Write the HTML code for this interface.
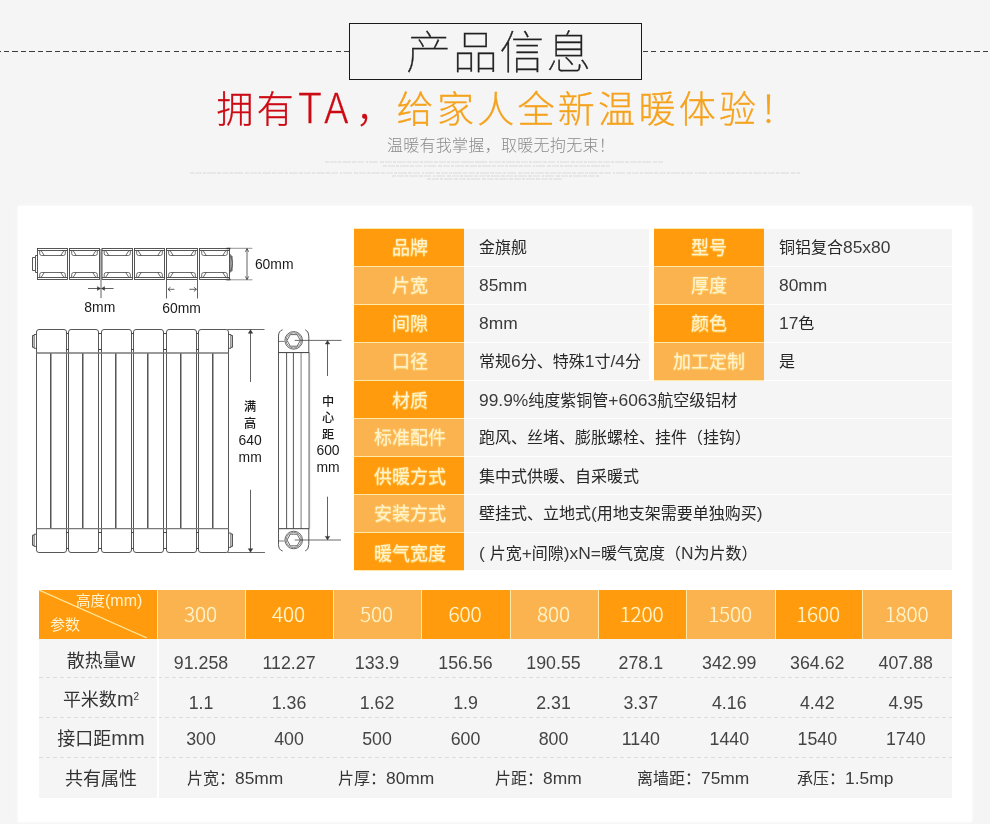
<!DOCTYPE html>
<html lang="zh-CN">
<head>
<meta charset="utf-8">
<title>产品信息</title>
<style>
*{margin:0;padding:0;box-sizing:border-box}
html,body{width:990px;height:824px;overflow:hidden;background:#f5f5f5}
body{font-family:"Liberation Sans","Noto Sans CJK SC",sans-serif;color:#333;position:relative}
.abs{position:absolute}
#page{position:absolute;left:0;top:0;width:990px;height:824px;background:#f5f5f5;overflow:hidden}
.dash{position:absolute;top:51px;height:1px;background:repeating-linear-gradient(90deg,#3c3c3c 0,#3c3c3c 5px,transparent 5px,transparent 8.5px)}
#tbox{position:absolute;left:349px;top:23px;width:293px;height:57px;border:1px solid #1a1a1a;background:#f5f5f5;text-align:center;font-size:45px;line-height:60px;font-weight:100;color:#222;-webkit-text-stroke:0.35px #222;letter-spacing:1.7px;padding-left:8px;white-space:nowrap}
#h1{position:absolute;left:13px;top:85px;width:990px;text-align:center;font-size:37px;line-height:48px;font-weight:300;letter-spacing:3.3px;white-space:nowrap;color:#f5a21d;-webkit-text-stroke:0.3px #f5a21d}
#h1 b{font-weight:300;color:#cc0a14;-webkit-text-stroke:0.3px #cc0a14}
#h1 i{font-style:normal;font-family:"Noto Sans CJK SC",sans-serif;font-size:41px;letter-spacing:4px;margin-left:1px;margin-right:4px;line-height:1;vertical-align:baseline}
#h2{position:absolute;left:6px;top:135px;width:990px;letter-spacing:.3px;text-align:center;font-size:16px;line-height:22px;font-weight:300;color:#8a8a8a;white-space:nowrap}
.tiny{position:absolute;height:2px;opacity:.85;background:repeating-linear-gradient(90deg,#e3e3e3 0,#e3e3e3 4px,transparent 4px,transparent 5px,#e6e6e6 5px,#e6e6e6 12px,transparent 12px,transparent 13.2px,#e2e2e2 13.2px,#e2e2e2 16px,transparent 16px,transparent 17px,#e5e5e5 17px,#e5e5e5 26px,transparent 26px,transparent 27.3px)}
#panel{position:absolute;left:17.5px;top:206px;width:954.5px;height:616px;background:#fff;box-shadow:0 0 4px rgba(255,255,255,.9)}
/* spec table */
.lab{position:absolute;width:110px;height:37px;line-height:39px;padding-left:2px;text-align:center;font-size:18px;font-weight:400;color:#fff2cc;text-shadow:0 1px 1px rgba(255,225,130,.9),0 0 2px rgba(255,240,180,.7);white-space:nowrap}
.d{background:#ff9b0c}
.l{background:#fbb34f}
.val{position:absolute;height:37px;line-height:37px;font-size:16px;color:#262626;overflow:hidden;background:#f5f5f5;padding-left:15px;white-space:nowrap;font-weight:400}
.n{font-family:"Liberation Sans",sans-serif;font-weight:400;font-size:17.4px;line-height:1;color:#3a3a3a}

/* bottom table */
#bt{position:absolute;left:39px;top:590px;width:913px;height:208px;background:#f5f5f5}
.hc{position:absolute;top:0;height:49px;line-height:47px;text-align:center;font-family:"Noto Sans CJK SC","Liberation Sans",sans-serif;font-weight:300;font-size:20.8px;letter-spacing:-0.2px;padding-right:2px;color:#fff3cf;text-shadow:0 0 1px rgba(255,235,160,.9);white-space:nowrap}
.rl{position:absolute;left:3px;width:118px;height:40px;line-height:40px;text-align:center;font-size:18px;color:#333;white-space:nowrap}
.rl .n{font-size:20px}
.bc{position:absolute;height:40px;line-height:40px;text-align:center;font-size:17.8px;color:#444;white-space:nowrap}
.sep{position:absolute;left:0;width:913px;height:1px;background:repeating-linear-gradient(90deg,#dcdcdc 0,#dcdcdc 4px,transparent 4px,transparent 7px)}
.at{position:absolute;top:169.4px;height:40px;line-height:40px;font-size:16px;color:#333;white-space:nowrap}
</style>
</head>
<body>
<div id="page">
<div class="dash" style="left:0;width:349px;transform:scaleX(-1)"></div>
<div class="dash" style="left:643px;width:347px"></div>
<div id="tbox">产品信息</div>
<div id="h1"><b>拥有<i>TA</i>，</b>给家人全新温暖体验！</div>
<div id="h2">温暖有我掌握，取暖无拘无束！</div>
<div class="tiny" style="top:161px;left:325px;width:338px"></div>
<div class="tiny" style="top:164.5px;left:383px;width:227px"></div>
<div class="tiny" style="top:171.5px;left:190px;width:610px"></div>
<div class="tiny" style="top:174.8px;left:392px;width:208px"></div>
<div class="tiny" style="top:178px;left:427px;width:136px"></div>
<div id="panel"></div>
<!-- draw -->
<svg id="draw" class="abs" style="left:0;top:0" width="360" height="580" viewBox="0 0 360 580" fill="none" stroke="#444" stroke-width="0.9" stroke-linecap="butt" font-family="&quot;Liberation Sans&quot;,&quot;Noto Sans CJK SC&quot;,sans-serif">
<g id="topview">
<rect x="37.5" y="248.5" width="30.0" height="31.0"/>
<path d="M37.5,250.5H67.5M37.5,277.5H67.5" stroke-width="0.9"/>
<path d="M39.7,250.5V253.5Q39.7,255.5 41.7,255.5H63.3Q65.3,255.5 65.3,253.5V250.5M41.0,250.5L44.3,255.5M64.0,250.5L60.7,255.5" stroke-width="0.8"/>
<path d="M39.7,277.5V274.5Q39.7,272.5 41.7,272.5H63.3Q65.3,272.5 65.3,274.5V277.5M41.0,277.5L44.3,272.5M64.0,277.5L60.7,272.5" stroke-width="0.8"/>
<rect x="69.5" y="248.5" width="30.0" height="31.0"/>
<path d="M69.5,250.5H99.5M69.5,277.5H99.5" stroke-width="0.9"/>
<path d="M71.7,250.5V253.5Q71.7,255.5 73.7,255.5H95.3Q97.3,255.5 97.3,253.5V250.5M73.0,250.5L76.3,255.5M96.0,250.5L92.7,255.5" stroke-width="0.8"/>
<path d="M71.7,277.5V274.5Q71.7,272.5 73.7,272.5H95.3Q97.3,272.5 97.3,274.5V277.5M73.0,277.5L76.3,272.5M96.0,277.5L92.7,272.5" stroke-width="0.8"/>
<rect x="102.0" y="248.5" width="30.5" height="31.0"/>
<path d="M102.0,250.5H132.5M102.0,277.5H132.5" stroke-width="0.9"/>
<path d="M104.2,250.5V253.5Q104.2,255.5 106.2,255.5H128.3Q130.3,255.5 130.3,253.5V250.5M105.5,250.5L108.8,255.5M129.0,250.5L125.7,255.5" stroke-width="0.8"/>
<path d="M104.2,277.5V274.5Q104.2,272.5 106.2,272.5H128.3Q130.3,272.5 130.3,274.5V277.5M105.5,277.5L108.8,272.5M129.0,277.5L125.7,272.5" stroke-width="0.8"/>
<rect x="134.5" y="248.5" width="30.0" height="31.0"/>
<path d="M134.5,250.5H164.5M134.5,277.5H164.5" stroke-width="0.9"/>
<path d="M136.7,250.5V253.5Q136.7,255.5 138.7,255.5H160.3Q162.3,255.5 162.3,253.5V250.5M138.0,250.5L141.3,255.5M161.0,250.5L157.7,255.5" stroke-width="0.8"/>
<path d="M136.7,277.5V274.5Q136.7,272.5 138.7,272.5H160.3Q162.3,272.5 162.3,274.5V277.5M138.0,277.5L141.3,272.5M161.0,277.5L157.7,272.5" stroke-width="0.8"/>
<rect x="166.5" y="248.5" width="31.0" height="31.0"/>
<path d="M166.5,250.5H197.5M166.5,277.5H197.5" stroke-width="0.9"/>
<path d="M168.7,250.5V253.5Q168.7,255.5 170.7,255.5H193.3Q195.3,255.5 195.3,253.5V250.5M170.0,250.5L173.3,255.5M194.0,250.5L190.7,255.5" stroke-width="0.8"/>
<path d="M168.7,277.5V274.5Q168.7,272.5 170.7,272.5H193.3Q195.3,272.5 195.3,274.5V277.5M170.0,277.5L173.3,272.5M194.0,277.5L190.7,272.5" stroke-width="0.8"/>
<rect x="199.5" y="248.5" width="30.0" height="31.0"/>
<path d="M199.5,250.5H229.5M199.5,277.5H229.5" stroke-width="0.9"/>
<path d="M201.7,250.5V253.5Q201.7,255.5 203.7,255.5H225.3Q227.3,255.5 227.3,253.5V250.5M203.0,250.5L206.3,255.5M226.0,250.5L222.7,255.5" stroke-width="0.8"/>
<path d="M201.7,277.5V274.5Q201.7,272.5 203.7,272.5H225.3Q227.3,272.5 227.3,274.5V277.5M203.0,277.5L206.3,272.5M226.0,277.5L222.7,272.5" stroke-width="0.8"/>
<path d="M37.5,255.5H35.5V257.5H32.5V270.5H35.5V272.5H37.5M35.5,257.5V270.5"/>
<path d="M229.5,254.8H230.8V272H229.5M230.8,256.2Q234.1,263.5 230.8,270.8M230.8,256.2H232.1V270.8H230.8" stroke-width="0.8"/>
<path d="M226.5,248.5H230.5M226.5,279.5H230.5" stroke-width="1.3" stroke="#333"/>
</g>
<g id="dims1" stroke="#3a3a3a" stroke-width="0.8">
<path d="M101,249V298"/>
<path d="M88,288.5H100.3M101.7,288.5H113.6"/>
<path d="M97.4,286.6L100.5,288.5L97.4,290.4ZM104.6,286.6L101.5,288.5L104.6,290.4Z" fill="#3a3a3a" stroke-width="0.4"/>
<path d="M166.5,280V298.5M197.5,280V298.5"/>
<path d="M168,289.3H174.4M170.5,287.2L168,289.3L170.5,291.4M189.3,289.3H196.4M193.9,287.2L196.4,289.3L193.9,291.4"/>
<path d="M230.5,248.3H252.4M225.5,279.8H252.4" stroke-width="0.7" stroke="#666"/>
<path d="M247,248.6V279.6M245.3,251.8L247,248.6L248.7,251.8M245.3,276.4L247,279.6L248.7,276.4"/>
</g>
<g id="front">
<path d="M36.5,332.0Q36.5,329.5 39.0,329.5H64.0Q66.5,329.5 66.5,332.0V550.0Q66.5,552.5 64.0,552.5H39.0Q36.5,552.5 36.5,550.0Z"/>
<path d="M51.5,353.0V528.7" stroke="#a8a8a8" stroke-width="1"/>
<path d="M50.5,353.0V528.7" stroke="#555" stroke-width="1"/>
<path d="M68.5,332.0Q68.5,329.5 71.0,329.5H96.0Q98.5,329.5 98.5,332.0V550.0Q98.5,552.5 96.0,552.5H71.0Q68.5,552.5 68.5,550.0Z"/>
<path d="M83.5,353.0V528.7" stroke="#a8a8a8" stroke-width="1"/>
<path d="M82.5,353.0V528.7" stroke="#555" stroke-width="1"/>
<path d="M101.5,332.0Q101.5,329.5 104.0,329.5H129.0Q131.5,329.5 131.5,332.0V550.0Q131.5,552.5 129.0,552.5H104.0Q101.5,552.5 101.5,550.0Z"/>
<path d="M116.5,353.0V528.7" stroke="#a8a8a8" stroke-width="1"/>
<path d="M115.5,353.0V528.7" stroke="#555" stroke-width="1"/>
<path d="M133.5,332.0Q133.5,329.5 136.0,329.5H161.0Q163.5,329.5 163.5,332.0V550.0Q163.5,552.5 161.0,552.5H136.0Q133.5,552.5 133.5,550.0Z"/>
<path d="M148.5,353.0V528.7" stroke="#a8a8a8" stroke-width="1"/>
<path d="M147.5,353.0V528.7" stroke="#555" stroke-width="1"/>
<path d="M166.5,332.0Q166.5,329.5 169.0,329.5H194.0Q196.5,329.5 196.5,332.0V550.0Q196.5,552.5 194.0,552.5H169.0Q166.5,552.5 166.5,550.0Z"/>
<path d="M181.5,353.0V528.7" stroke="#a8a8a8" stroke-width="1"/>
<path d="M180.5,353.0V528.7" stroke="#555" stroke-width="1"/>
<path d="M198.5,332.0Q198.5,329.5 201.0,329.5H226.0Q228.5,329.5 228.5,332.0V550.0Q228.5,552.5 226.0,552.5H201.0Q198.5,552.5 198.5,550.0Z"/>
<path d="M213.5,353.0V528.7" stroke="#a8a8a8" stroke-width="1"/>
<path d="M212.5,353.0V528.7" stroke="#555" stroke-width="1"/>
<path d="M36.5,353.0H228.5M36.5,528.7H228.5" stroke="#7a7a7a" stroke-width="1.3"/>
<path d="M66.5,333.5H68.5M66.5,349.5H68.5M66.5,532.5H68.5M66.5,548.5H68.5" stroke-width="1"/>
<path d="M98.5,333.5H101.5M98.5,349.5H101.5M98.5,532.5H101.5M98.5,548.5H101.5" stroke-width="1"/>
<path d="M131.5,333.5H133.5M131.5,349.5H133.5M131.5,532.5H133.5M131.5,548.5H133.5" stroke-width="1"/>
<path d="M163.5,333.5H166.5M163.5,349.5H166.5M163.5,532.5H166.5M163.5,548.5H166.5" stroke-width="1"/>
<path d="M196.5,333.5H198.5M196.5,349.5H198.5M196.5,532.5H198.5M196.5,548.5H198.5" stroke-width="1"/>
<path d="M36.5,334.5H34.1V348.3H36.5M34.1,335.5H32.5V347.3H34.1"/>
<path d="M36.5,534.2H34.1V546.4H36.5M34.1,535.2H32.5V545.4H34.1"/>
<path d="M228.5,334.5H230.9V348.3H228.5M230.9,335.5H232.5V347.3H230.9"/>
<path d="M228.5,533H230.9V547.4H228.5M230.9,534H232.5V546.4H230.9"/>
</g>
<g id="dims2" stroke="#3a3a3a" stroke-width="0.8">
<path d="M227.5,329.5H264.5M227.5,552.5H265" stroke-width="0.8" stroke="#444"/>
<path d="M250.5,329.8V382M250.5,489.8V552.2"/>
<path d="M248.3,333.3L250.5,329.8L252.7,333.3ZM248.3,548.7L250.5,552.2L252.7,548.7Z" fill="#3a3a3a" stroke-width="0.5"/>
</g>
<g id="side">
<path d="M278.5,353.0V336Q278.5,331 282.6,329.8M308.8,353.0V336Q308.8,331 305.2,329.8" stroke-width="0.9"/>
<path d="M278.5,528.7V544.6Q278.5,549.8 282.6,551M308.8,528.7V544.6Q308.8,549.8 305.2,551" stroke-width="0.9"/>
<path d="M278.5,353.0V528.7M286.6,353.0V528.7M293.4,353.0V528.7" stroke-width="0.9"/>
<path d="M301.1,353.0V528.7" stroke="#a6a6a6" stroke-width="1.5"/>
<path d="M309.2,353.0V528.7" stroke="#a0a0a0" stroke-width="1.9"/>
<path d="M278.5,352.6H309.2M278.5,528.7H309.2" stroke="#3c3c3c" stroke-width="1"/>
<path d="M278.5,341.4H284.5M278.5,541.0H284.5" stroke-width="0.7"/>
<circle cx="293.7" cy="340.4" r="8.8" stroke="#555" stroke-width="0.9"/>
<circle cx="293.7" cy="340.4" r="7.6" stroke="#666" stroke-width="0.8"/>
<polygon points="300.4,340.4 297.1,346.2 290.3,346.2 287.0,340.4 290.3,334.6 297.1,334.6" stroke="#555" stroke-width="0.9"/>
<circle cx="293.7" cy="540.0" r="8.8" stroke="#555" stroke-width="0.9"/>
<circle cx="293.7" cy="540.0" r="7.6" stroke="#666" stroke-width="0.8"/>
<polygon points="300.4,540.0 297.1,545.8 290.3,545.8 287.0,540.0 290.3,534.2 297.1,534.2" stroke="#555" stroke-width="0.9"/>
</g>
<g id="dims3" stroke="#3a3a3a" stroke-width="0.8">
<path d="M294.7,340.4H341.5M294.7,540.0H341" stroke-width="0.8" stroke="#444"/>
<path d="M327.5,340.7V376M327.5,496.7V539.7"/>
<path d="M325.3,344.0L327.5,340.59999999999997L329.7,344.0ZM325.3,536.4L327.5,539.8L329.7,536.4Z" fill="#3a3a3a" stroke-width="0.5"/>
</g>
<g id="dtext" stroke="none" fill="#1a1a1a" font-size="13.9" text-anchor="middle">
<text x="99.8" y="311.8">8mm</text>
<text x="181.6" y="312.6">60mm</text>
<text x="274.2" y="268.8">60mm</text>
<text x="250.2" y="410.8" font-size="12.2" font-weight="500">满</text>
<text x="250.2" y="428.2" font-size="12.2" font-weight="500">高</text>
<text x="250.2" y="445.4">640</text>
<text x="250.2" y="461.8">mm</text>
<text x="328.2" y="405.6" font-size="12.2" font-weight="500">中</text>
<text x="328.2" y="422.2" font-size="12.2" font-weight="500">心</text>
<text x="328.2" y="438.8" font-size="12.2" font-weight="500">距</text>
<text x="328" y="455.2">600</text>
<text x="328" y="471.6">mm</text>
</g>
</svg>
<!-- /draw -->
<!-- spec -->
<div class="abs" style="left:354px;top:228px;width:110px;height:343px;background:#ffe9a8"></div>
<div class="abs" style="left:654px;top:228px;width:110px;height:153px;background:#ffe9a8"></div>
<div class="lab d" style="left:354px;top:229px">品牌</div><div class="val" style="left:464px;top:229px;width:185px">金旗舰</div>
<div class="lab l" style="left:354px;top:267px">片宽</div><div class="val" style="left:464px;top:267px;width:185px"><span class="n">85mm</span></div>
<div class="lab d" style="left:354px;top:305px">间隙</div><div class="val" style="left:464px;top:305px;width:185px"><span class="n">8mm</span></div>
<div class="lab l" style="left:354px;top:343px">口径</div><div class="val" style="left:464px;top:343px;width:185px">常规<span class="n">6</span>分、特殊<span class="n">1</span>寸<span class="n">/4</span>分</div>
<div class="lab d" style="left:354px;top:381px;line-height:40px">材质</div><div class="val" style="left:464px;top:381px;width:488px;line-height:39px"><span class="n">99.9%</span>纯度紫铜管<span class="n">+6063</span>航空级铝材</div>
<div class="lab l" style="left:354px;top:419px">标准配件</div><div class="val" style="left:464px;top:419px;width:488px">跑风、丝堵、膨胀螺栓、挂件（挂钩）</div>
<div class="lab d" style="left:354px;top:457px;line-height:40px">供暖方式</div><div class="val" style="left:464px;top:457px;width:488px;line-height:39px">集中式供暖、自采暖式</div>
<div class="lab l" style="left:354px;top:495px">安装方式</div><div class="val" style="left:464px;top:495px;width:488px">壁挂式、立地式<span class="n">(</span>用地支架需要单独购买<span class="n">)</span></div>
<div class="lab d" style="left:354px;top:533px;line-height:42px">暖气宽度</div><div class="val" style="left:464px;top:533px;width:488px;line-height:41px"><span class="n">( </span>片宽<span class="n">+</span>间隙<span class="n">)xN=</span>暖气宽度（<span class="n">N</span>为片数）</div>
<div class="lab d" style="left:654px;top:229px;padding-left:0">型号</div><div class="val" style="left:764px;top:229px;width:188px;padding-left:15px">铜铝复合<span class="n">85x80</span></div>
<div class="lab l" style="left:654px;top:267px;padding-left:0">厚度</div><div class="val" style="left:764px;top:267px;width:188px;padding-left:15px"><span class="n">80mm</span></div>
<div class="lab d" style="left:654px;top:305px;padding-left:0">颜色</div><div class="val" style="left:764px;top:305px;width:188px;padding-left:15px"><span class="n">17</span>色</div>
<div class="lab l" style="left:654px;top:343px;padding-left:0">加工定制</div><div class="val" style="left:764px;top:343px;width:188px;padding-left:15px">是</div>
<!-- /spec -->
<!-- bt -->
<div id="bt">
<div class="abs" style="left:0;top:0;width:913px;height:49px;background:#ffe9a8"></div>
<div class="abs d" style="left:0;top:0;width:118px;height:49px;overflow:hidden"><svg class="abs" style="left:0;top:0" width="118" height="48"><line x1="0" y1="0" x2="108" y2="48" stroke="#ffe9a0" stroke-width="1.2"/></svg><span class="abs" style="left:37px;top:2px;font-size:14.5px;line-height:18px;color:#fff3cf;white-space:nowrap">高度<span style="font-size:16px;font-family:'Liberation Sans',sans-serif">(mm)</span></span><span class="abs" style="left:11px;top:26px;font-size:15px;line-height:18px;color:#fff3cf;white-space:nowrap">参数</span></div>
<div class="hc l" style="left:119px;width:87px">300</div>
<div class="hc d" style="left:207px;width:87px">400</div>
<div class="hc l" style="left:295px;width:87px">500</div>
<div class="hc d" style="left:383px;width:88px">600</div>
<div class="hc l" style="left:472px;width:87px">800</div>
<div class="hc d" style="left:560px;width:87px">1200</div>
<div class="hc l" style="left:648px;width:88px">1500</div>
<div class="hc d" style="left:737px;width:86px">1600</div>
<div class="hc l" style="left:824px;width:89px">1800</div>
<div class="rl" style="top:50.5px">散热量<span class="n">w</span></div>
<div class="rl" style="top:89.5px">平米数<span class="n">m<sup style="font-size:10px;line-height:0;vertical-align:6px">2</sup></span></div>
<div class="rl" style="top:129px">接口距<span class="n">mm</span></div>
<div class="rl" style="top:168.5px">共有属性</div>
<div class="bc n" style="left:118px;top:52.5px;width:88px">91.258</div>
<div class="bc n" style="left:206px;top:52.5px;width:88px">112.27</div>
<div class="bc n" style="left:294px;top:52.5px;width:88px">133.9</div>
<div class="bc n" style="left:382px;top:52.5px;width:89px">156.56</div>
<div class="bc n" style="left:470.5px;top:52.5px;width:88px">190.55</div>
<div class="bc n" style="left:557.8px;top:52.5px;width:88px">278.1</div>
<div class="bc n" style="left:645.8px;top:52.5px;width:89px">342.99</div>
<div class="bc n" style="left:734.8px;top:52.5px;width:87px">364.62</div>
<div class="bc n" style="left:821.8px;top:52.5px;width:90px">407.88</div>
<div class="bc n" style="left:118px;top:93.4px;width:88px">1.1</div>
<div class="bc n" style="left:206px;top:93.4px;width:88px">1.36</div>
<div class="bc n" style="left:294px;top:93.4px;width:88px">1.62</div>
<div class="bc n" style="left:382px;top:93.4px;width:89px">1.9</div>
<div class="bc n" style="left:470.5px;top:93.4px;width:88px">2.31</div>
<div class="bc n" style="left:557.8px;top:93.4px;width:88px">3.37</div>
<div class="bc n" style="left:645.8px;top:93.4px;width:89px">4.16</div>
<div class="bc n" style="left:734.8px;top:93.4px;width:87px">4.42</div>
<div class="bc n" style="left:821.8px;top:93.4px;width:90px">4.95</div>
<div class="bc n" style="left:118px;top:129.3px;width:88px">300</div>
<div class="bc n" style="left:206px;top:129.3px;width:88px">400</div>
<div class="bc n" style="left:294px;top:129.3px;width:88px">500</div>
<div class="bc n" style="left:382px;top:129.3px;width:89px">600</div>
<div class="bc n" style="left:470.5px;top:129.3px;width:88px">800</div>
<div class="bc n" style="left:557.8px;top:129.3px;width:88px">1140</div>
<div class="bc n" style="left:645.8px;top:129.3px;width:89px">1440</div>
<div class="bc n" style="left:734.8px;top:129.3px;width:87px">1540</div>
<div class="bc n" style="left:821.8px;top:129.3px;width:90px">1740</div>
<div class="sep" style="top:87px"></div>
<div class="sep" style="top:127px"></div>
<div class="sep" style="top:167px"></div>
<div class="abs" style="left:118px;top:49px;width:2px;height:159px;background:#fff"></div>
<div class="at" style="left:148px">片宽：<span class="n">85mm</span></div>
<div class="at" style="left:299px">片厚：<span class="n">80mm</span></div>
<div class="at" style="left:456px">片距：<span class="n">8mm</span></div>
<div class="at" style="left:598px">离墙距：<span class="n">75mm</span></div>
<div class="at" style="left:758px">承压：<span class="n">1.5mp</span></div>
</div>
<!-- /bt -->
</div>
</body>
</html>
